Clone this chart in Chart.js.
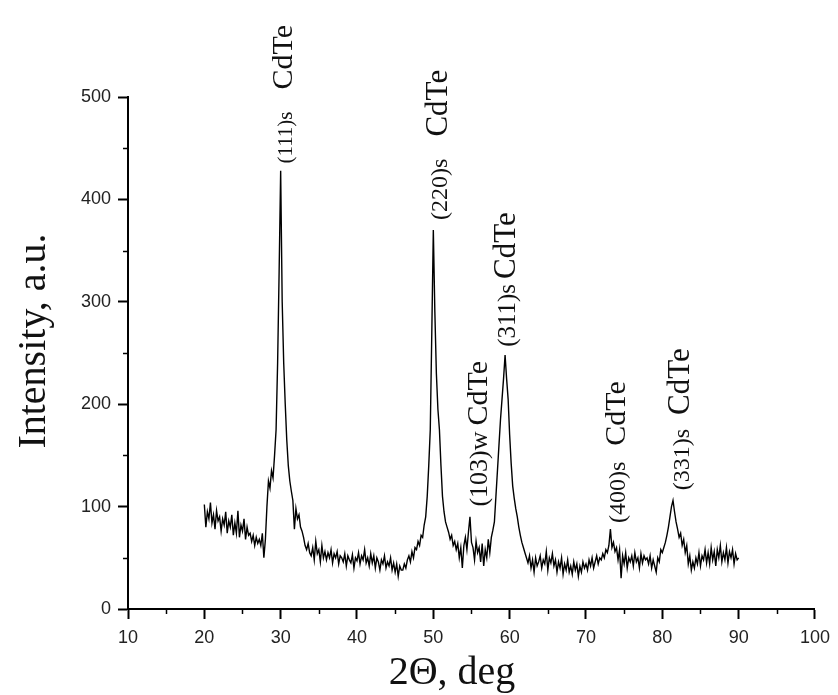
<!DOCTYPE html>
<html>
<head>
<meta charset="utf-8">
<script src="https://cdn.jsdelivr.net/npm/chart.js@4/dist/chart.umd.min.js"></script>
<style>
  html, body { margin: 0; padding: 0; background: #fff; }
  canvas { display: block; }
</style>
</head>
<body>
<canvas id="xrd" width="838" height="695"></canvas>
<script>
// scan angles, 2theta (deg)
var twoTheta = [
  20.0, 20.2, 20.4, 20.6, 20.8, 21.0, 21.2, 21.4, 21.6, 21.8,
  22.0, 22.2, 22.4, 22.6, 22.8, 23.0, 23.2, 23.4, 23.6, 23.8,
  24.0, 24.2, 24.4, 24.6, 24.8, 25.0, 25.2, 25.4, 25.6, 25.8,
  26.0, 26.2, 26.4, 26.6, 26.8, 27.0, 27.2, 27.4, 27.6, 27.8,
  28.0, 28.2, 28.4, 28.6, 28.8, 29.0, 29.2, 29.4, 29.6, 29.8,
  30.0, 30.2, 30.4, 30.6, 30.8, 31.0, 31.2, 31.4, 31.6, 31.8,
  32.0, 32.2, 32.4, 32.6, 32.8, 33.0, 33.2, 33.4, 33.6, 33.8,
  34.0, 34.2, 34.4, 34.6, 34.8, 35.0, 35.2, 35.4, 35.6, 35.8,
  36.0, 36.2, 36.4, 36.6, 36.8, 37.0, 37.2, 37.4, 37.6, 37.8,
  38.0, 38.2, 38.4, 38.6, 38.8, 39.0, 39.2, 39.4, 39.6, 39.8,
  40.0, 40.2, 40.4, 40.6, 40.8, 41.0, 41.2, 41.4, 41.6, 41.8,
  42.0, 42.2, 42.4, 42.6, 42.8, 43.0, 43.2, 43.4, 43.6, 43.8,
  44.0, 44.2, 44.4, 44.6, 44.8, 45.0, 45.2, 45.4, 45.6, 45.8,
  46.0, 46.2, 46.4, 46.6, 46.8, 47.0, 47.2, 47.4, 47.6, 47.8,
  48.0, 48.2, 48.4, 48.6, 48.8, 49.0, 49.2, 49.4, 49.6, 49.8,
  50.0, 50.2, 50.4, 50.6, 50.8, 51.0, 51.2, 51.4, 51.6, 51.8,
  52.0, 52.2, 52.4, 52.6, 52.8, 53.0, 53.2, 53.4, 53.6, 53.8,
  54.0, 54.2, 54.4, 54.6, 54.8, 55.0, 55.2, 55.4, 55.6, 55.8,
  56.0, 56.2, 56.4, 56.6, 56.8, 57.0, 57.2, 57.4, 57.6, 57.8,
  58.0, 58.2, 58.4, 58.6, 58.8, 59.0, 59.2, 59.4, 59.6, 59.8,
  60.0, 60.2, 60.4, 60.6, 60.8, 61.0, 61.2, 61.4, 61.6, 61.8,
  62.0, 62.2, 62.4, 62.6, 62.8, 63.0, 63.2, 63.4, 63.6, 63.8,
  64.0, 64.2, 64.4, 64.6, 64.8, 65.0, 65.2, 65.4, 65.6, 65.8,
  66.0, 66.2, 66.4, 66.6, 66.8, 67.0, 67.2, 67.4, 67.6, 67.8,
  68.0, 68.2, 68.4, 68.6, 68.8, 69.0, 69.2, 69.4, 69.6, 69.8,
  70.0, 70.2, 70.4, 70.6, 70.8, 71.0, 71.2, 71.4, 71.6, 71.8,
  72.0, 72.2, 72.4, 72.6, 72.8, 73.0, 73.2, 73.4, 73.6, 73.8,
  74.0, 74.2, 74.4, 74.6, 74.8, 75.0, 75.2, 75.4, 75.6, 75.8,
  76.0, 76.2, 76.4, 76.6, 76.8, 77.0, 77.2, 77.4, 77.6, 77.8,
  78.0, 78.2, 78.4, 78.6, 78.8, 79.0, 79.2, 79.4, 79.6, 79.8,
  80.0, 80.2, 80.4, 80.6, 80.8, 81.0, 81.2, 81.4, 81.6, 81.8,
  82.0, 82.2, 82.4, 82.6, 82.8, 83.0, 83.2, 83.4, 83.6, 83.8,
  84.0, 84.2, 84.4, 84.6, 84.8, 85.0, 85.2, 85.4, 85.6, 85.8,
  86.0, 86.2, 86.4, 86.6, 86.8, 87.0, 87.2, 87.4, 87.6, 87.8,
  88.0, 88.2, 88.4, 88.6, 88.8, 89.0, 89.2, 89.4, 89.6, 89.8,
  90.0
];

// intensity, a.u.
var intensity = [
  102, 80, 95, 88, 104, 84, 92, 78, 96, 86,
  90, 76, 88, 82, 95, 74, 86, 80, 92, 72,
  84, 74, 96, 70, 82, 76, 88, 68, 80, 72,
  74, 66, 72, 62, 70, 64, 68, 62, 74, 50,
  68, 100, 125, 118, 135, 128, 150, 175, 240, 330,
  428, 300, 240, 200, 165, 140, 125, 115, 106, 78,
  98, 88, 92, 80, 76, 70, 62, 58, 64, 55,
  52, 60, 48, 66, 54, 58, 46, 62, 50, 56,
  48, 55, 50, 58, 45, 54, 50, 56, 44, 52,
  50, 46, 54, 42, 52, 48, 45, 53, 40, 50,
  47, 55, 44, 52, 48, 58, 45, 50, 42, 54,
  45, 52, 40, 50, 46, 38, 48, 44, 52, 40,
  46, 42, 50, 38, 45, 36, 44, 32, 42, 38,
  38, 44, 40, 48, 52, 46, 56, 50, 60, 58,
  66, 62, 72, 70, 82, 90, 110, 140, 175, 270,
  370, 290, 230, 195, 175, 140, 110, 95, 85, 80,
  75, 68, 72, 62, 66, 58, 64, 50, 60, 40,
  62, 70, 58, 75, 90, 65, 60, 48, 66, 55,
  60, 46, 64, 42, 58, 50, 68, 55, 70, 77,
  85, 110, 135, 160, 185, 205, 225, 248, 225, 205,
  170, 142, 120, 108, 98, 90, 80, 72, 65, 60,
  55, 50, 45, 52, 40, 48, 36, 50, 42, 46,
  52, 40, 48, 44, 56, 38, 50, 45, 54, 42,
  48, 36, 46, 40, 50, 34, 44, 38, 48, 36,
  42, 34, 46, 38, 44, 32, 42, 36, 46, 40,
  44, 38, 48, 42, 50, 40, 46, 52, 44, 50,
  48, 54, 50, 58, 55, 62, 78, 60, 65, 56,
  60, 48, 58, 30, 52, 44, 55, 40, 50, 46,
  52, 42, 55, 46, 50, 40, 54, 45, 52, 48,
  50, 44, 52, 40, 48, 42, 36, 50, 46, 58,
  55, 60, 65, 72, 80, 90, 100, 106, 95, 85,
  78, 70, 74, 62, 68, 55, 62, 44, 52, 38,
  46, 40, 50, 44, 55, 42, 52, 48, 58, 45,
  55, 44, 60, 48, 56, 42, 58, 50, 62, 46,
  55, 48, 60, 45, 56, 50, 58, 44, 54, 48,
  50
];

var xTickValues = [10, 20, 30, 40, 50, 60, 70, 80, 90, 100];
var xMinorValues = [15, 25, 35, 45, 55, 65, 75, 85, 95];
var yTickValues = [0, 100, 200, 300, 400, 500];
var yMinorValues = [50, 150, 250, 350, 450];

// peak labels: reflection, phase index, compound
var peakHkl = ["(111)s", "(220)s", "(103)w", "(311)s", "(400)s", "(331)s"];
var peakName = ["CdTe", "CdTe", "CdTe", "CdTe", "CdTe", "CdTe"];
var peakTheta = [30.2, 50.4, 55.8, 59.4, 73.8, 82.2];
var peakLabelBase = [435, 380, 100, 256, 84, 116];

// per-label look (font sizes and gap between the two parts)
var labelStyle = [
  { small: 21, big: 30, gap: 22 },
  { small: 24, big: 31, gap: 22 },
  { small: 26, big: 30, gap: 6 },
  { small: 25, big: 31, gap: 5 },
  { small: 24, big: 30, gap: 16 },
  { small: 24, big: 31, gap: 14 }
];

var points = twoTheta.map(function (t, i) { return { x: t, y: intensity[i] }; });

var serif = "'Liberation Serif', 'Times New Roman', serif";
var sans = "'Liberation Sans', Arial, sans-serif";

var extras = {
  id: "extras",
  afterDraw: function (chart) {
    var ctx = chart.ctx;
    var xs = chart.scales.x;
    var ys = chart.scales.y;
    var area = chart.chartArea;

    ctx.save();
    ctx.strokeStyle = "#000";
    ctx.lineWidth = 1.5;
    // minor ticks
    xMinorValues.forEach(function (v) {
      var px = Math.round(xs.getPixelForValue(v)) + 0.5;
      ctx.beginPath();
      ctx.moveTo(px, area.bottom);
      ctx.lineTo(px, area.bottom + 5);
      ctx.stroke();
    });
    yMinorValues.forEach(function (v) {
      var py = Math.round(ys.getPixelForValue(v)) + 0.5;
      ctx.beginPath();
      ctx.moveTo(area.left, py);
      ctx.lineTo(area.left - 5, py);
      ctx.stroke();
    });

    // axis titles
    ctx.fillStyle = "#111";
    ctx.font = "40px " + serif;
    ctx.textAlign = "center";
    ctx.textBaseline = "alphabetic";
    ctx.fillText("2\u0398, deg", 452, 684);

    ctx.save();
    ctx.translate(45, 341);
    ctx.rotate(-Math.PI / 2);
    ctx.fillText("Intensity, a.u.", 0, 0);
    ctx.restore();

    // peak labels
    peakHkl.forEach(function (hkl, i) {
      var st = labelStyle[i];
      var px = xs.getPixelForValue(peakTheta[i]);
      var py = ys.getPixelForValue(peakLabelBase[i]);
      ctx.save();
      ctx.translate(px, py);
      ctx.rotate(-Math.PI / 2);
      ctx.textAlign = "left";
      ctx.textBaseline = "alphabetic";
      var off = st.big * 0.33;
      ctx.font = st.small + "px " + serif;
      ctx.fillText(hkl, 0, off);
      var w = ctx.measureText(hkl).width;
      ctx.font = st.big + "px " + serif;
      ctx.fillText(peakName[i], w + st.gap, off);
      ctx.restore();
    });
    ctx.restore();
  }
};

var ctxXrd = document.getElementById("xrd").getContext("2d");

var xrdChart = new Chart(ctxXrd, {
  type: "line",
  data: {
    datasets: [{
      data: points,
      borderColor: "#000",
      borderWidth: 1.4,
      pointRadius: 0,
      tension: 0,
      fill: false
    }]
  },
  options: {
    responsive: false,
    animation: false,
    layout: { padding: { left: 0, right: 20, top: 97, bottom: 0 } },
    plugins: {
      legend: { display: false },
      tooltip: { enabled: false }
    },
    scales: {
      x: {
        type: "linear",
        min: 10,
        max: 100,
        afterBuildTicks: function (scale) {
          scale.ticks = xTickValues.map(function (v) { return { value: v }; });
        },
        afterFit: function (scale) { scale.height = 86; },
        ticks: {
          autoSkip: false,
          maxRotation: 0,
          color: "#222",
          padding: 8,
          font: { family: sans, size: 18 }
        },
        grid: {
          display: true,
          drawOnChartArea: false,
          drawTicks: true,
          tickLength: 10,
          tickColor: "#000",
          tickWidth: 2
        },
        border: { display: true, color: "#000", width: 2 }
      },
      y: {
        type: "linear",
        min: 0,
        max: 500,
        afterBuildTicks: function (scale) {
          scale.ticks = yTickValues.map(function (v) { return { value: v }; });
        },
        afterFit: function (scale) { scale.width = 128; },
        ticks: {
          autoSkip: false,
          color: "#222",
          padding: 7,
          font: { family: sans, size: 18 }
        },
        grid: {
          display: true,
          drawOnChartArea: false,
          drawTicks: true,
          tickLength: 10,
          tickColor: "#000",
          tickWidth: 2
        },
        border: { display: true, color: "#000", width: 2 }
      }
    }
  },
  plugins: [extras]
});
</script>
</body>
</html>
